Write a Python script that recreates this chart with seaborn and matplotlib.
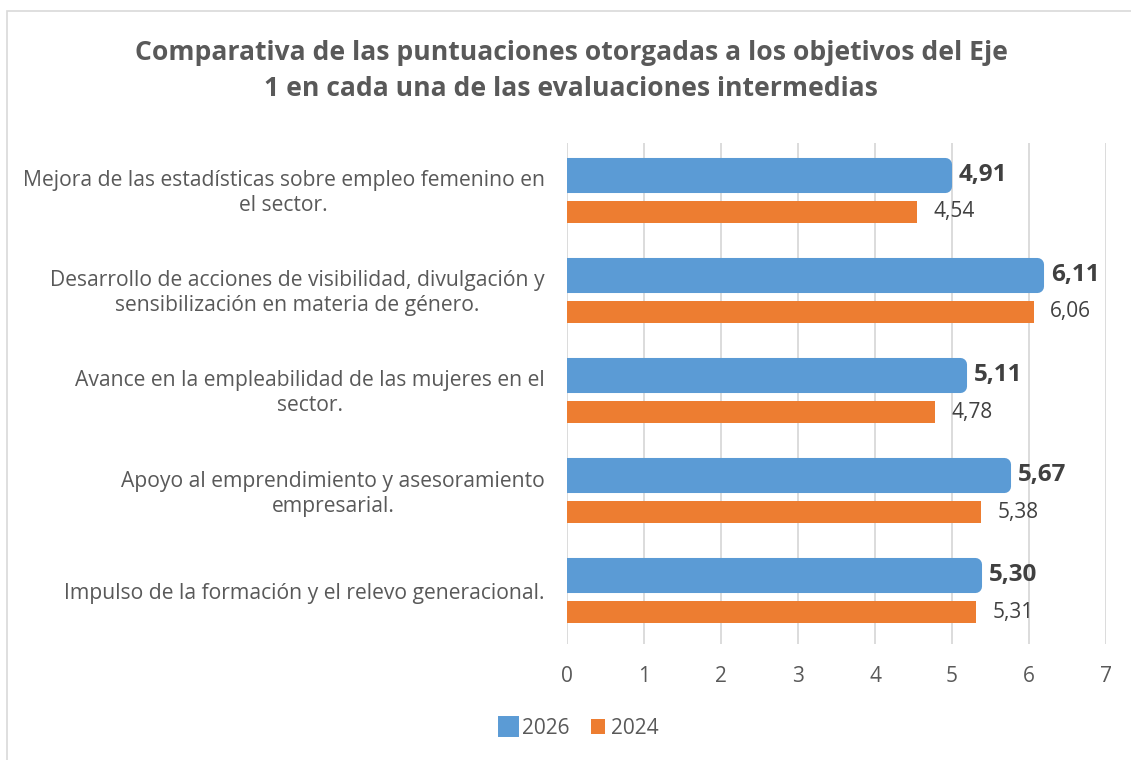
import numpy as np
import pandas as pd
import matplotlib
matplotlib.use("Agg")
import matplotlib.pyplot as plt
import matplotlib.patches as mpatches
import seaborn as sns

# datos del gráfico
objetivos = [
    "Mejora de las estadísticas sobre empleo femenino en\nel sector.",
    "Desarrollo de acciones de visibilidad, divulgación y\nsensibilización en materia de género.",
    "Avance en la empleabilidad de las mujeres en el\nsector.",
    "Apoyo al emprendimiento y asesoramiento\nempresarial.",
    "Impulso de la formación y el relevo generacional.",
]
puntos_2026 = [4.91, 6.11, 5.11, 5.67, 5.30]
puntos_2024 = [4.54, 6.06, 4.78, 5.38, 5.31]
series = ["2026", "2024"]
x_ticks = [0, 1, 2, 3, 4, 5, 6, 7]

titulo = ("Comparativa de las puntuaciones otorgadas a los objetivos del Eje\n"
          "1 en cada una de las evaluaciones intermedias")

AZUL = "#5B9BD5"
NARANJA = "#ED7D31"
GRIS_TEXTO = "#595959"
GRIS_OSCURO = "#404040"


def getDataframe():
    df = pd.DataFrame({
        "objetivo": objetivos * 2,
        "serie": [series[0]] * len(objetivos) + [series[1]] * len(objetivos),
        "puntos": puntos_2026 + puntos_2024,
    })
    return df


def fmt(v):
    return "{:.2f}".format(v).replace(".", ",")


def main():
    sns.set_theme(style="white")
    plt.rcParams["font.family"] = ["Open Sans", "DejaVu Sans"]

    df = getDataframe()

    fig = plt.figure(figsize=(11.31, 7.6), dpi=100)
    ax = fig.add_axes([567 / 1131, 1 - 644 / 760, 539 / 1131, 501 / 760])

    sns.barplot(data=df, y="objetivo", x="puntos", hue="serie", hue_order=series,
                order=objetivos, palette=[AZUL, NARANJA], width=0.74, gap=0.405,
                orient="h", ax=ax, legend=False, saturation=1)

    # barras de 2026 con esquinas redondeadas
    for p in ax.containers[0]:
        p.set_edgecolor(AZUL)
        p.set_linewidth(9.4)
        p.set_joinstyle("round")
    for p in ax.containers[1]:
        p.set_linewidth(0)

    ax.bar_label(ax.containers[0], labels=[fmt(v) for v in puntos_2026], padding=10,
                 fontsize=17.5, fontweight="bold", color=GRIS_OSCURO)
    ax.bar_label(ax.containers[1], labels=[fmt(v) for v in puntos_2024], padding=12,
                 fontsize=15, color=GRIS_OSCURO)

    ax.set_xlim(0, 7)
    ax.set_ylim(len(objetivos) - 0.5, -0.5)
    ax.set_xticks(x_ticks)
    ax.set_xticklabels([str(t) for t in x_ticks])
    ax.grid(axis="x", color="#d9d9d9", linewidth=1.3)
    ax.grid(axis="y", visible=False)
    ax.set_axisbelow(True)
    for s in ax.spines.values():
        s.set_visible(False)
    ax.set_xlabel("")
    ax.set_ylabel("")
    ax.tick_params(axis="x", length=0, pad=16, labelsize=15, labelcolor=GRIS_TEXTO)
    ax.tick_params(axis="y", length=0, pad=16, labelsize=15.2, labelcolor=GRIS_TEXTO)
    for lab in ax.get_yticklabels():
        lab.set_multialignment("center")
        lab.set_linespacing(1.25)
        lab.set_verticalalignment("center")

    fig.text(0.505, 1 - 71 / 760, titulo, ha="center", va="center", fontsize=19.1,
             fontweight="bold", color=GRIS_TEXTO, linespacing=1.45)

    handles = [
        mpatches.Patch(facecolor=AZUL, edgecolor=AZUL, linewidth=4.3, joinstyle="round", label=series[0]),
        mpatches.Patch(facecolor=NARANJA, edgecolor=NARANJA, linewidth=0, label=series[1]),
    ]
    leg = fig.legend(handles=handles, loc="center", bbox_to_anchor=(0.513, 1 - 728 / 760),
                     ncol=2, frameon=False, fontsize=15, handlelength=0.7, handleheight=0.7,
                     handletextpad=0.3, columnspacing=1.0)
    for t in leg.get_texts():
        t.set_color(GRIS_TEXTO)

    # marco exterior del gráfico
    fig.patches.append(mpatches.Rectangle((7 / 1131, -0.05), 1.2, 1 - 11 / 760 + 0.05,
                                          transform=fig.transFigure, fill=False,
                                          edgecolor="#d9d9d9", linewidth=1.2))

    fig.savefig("out.png", dpi=100)


if __name__ == '__main__':
    main()
